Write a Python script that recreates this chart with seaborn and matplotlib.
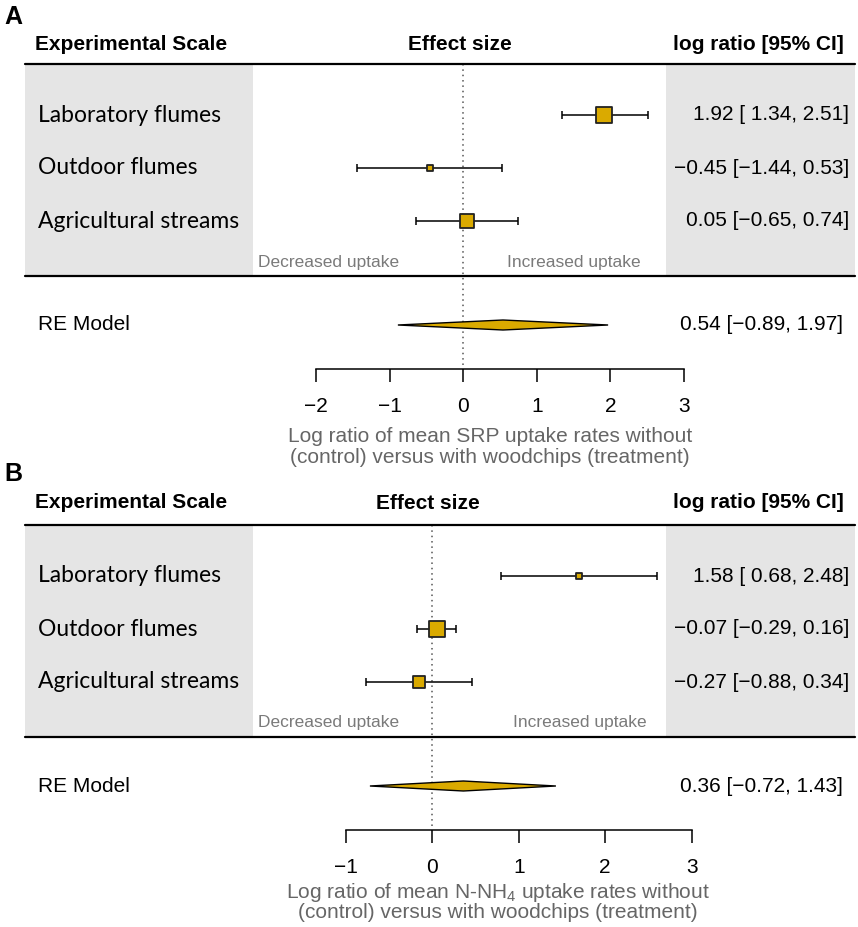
import numpy as np
import pandas as pd
import matplotlib
matplotlib.use("Agg")
import matplotlib.pyplot as plt
import seaborn as sns
from matplotlib.patches import Rectangle
from matplotlib.transforms import blended_transform_factory

# ---- data -------------------------------------------------------------
scales = ["Laboratory flumes", "Outdoor flumes", "Agricultural streams"]

# panel A: SRP uptake
srp_est = [1.92, -0.45, 0.05]
srp_lo = [1.34, -1.44, -0.65]
srp_hi = [2.51, 0.53, 0.74]
srp_weight = [1.0, 0.35, 0.85]
srp_re = [0.54, -0.89, 1.97]
srp_ticks = [-2, -1, 0, 1, 2, 3]

# panel B: N-NH4 uptake
# printed values
nh4_est = [1.58, -0.07, -0.27]
nh4_lo = [0.68, -0.29, -0.88]
nh4_hi = [2.48, 0.16, 0.34]
# where the squares actually sit in the figure (shifted ~0.12 to the right)
nh4_plot_est = [1.70, 0.05, -0.15]
nh4_plot_lo = [0.79, -0.17, -0.76]
nh4_plot_hi = [2.60, 0.28, 0.46]
nh4_weight = [0.36, 1.0, 0.72]
nh4_re = [0.36, -0.72, 1.43]
nh4_ticks = [-1, 0, 1, 2, 3]

# ---- style ------------------------------------------------------------
W, H = 858, 927
GOLD = "#DAAA00"
GRAY_BOX = "#E5E5E5"

sns.set_theme(style="white")
plt.rcParams['font.family'] = ['Liberation Sans', 'DejaVu Sans']
plt.rcParams['mathtext.default'] = 'regular'
plt.rcParams['text.color'] = 'black'
plt.rcParams['axes.labelcolor'] = 'black'
plt.rcParams['xtick.color'] = 'black'

LABEL_FONT = ['Lato', 'DejaVu Sans']


def fmt_ci(est, lo, hi):
    s = f"{est:.2f} [{lo:5.2f}, {hi:.2f}]"
    return s.replace("-", "\u2212")


def fx(px):
    return px / W


def draw_panel(ax, est, lo, hi, weight, re, ticks, zero_px, unit_px,
               plot_est=None, plot_lo=None, plot_hi=None,
               xlabel_lines=(), xlabel_x=490, xlabel_y=(436, 457),
               inc_right=641, header_y=45):
    if plot_est is None:
        plot_est, plot_lo, plot_hi = est, lo, hi
    ax.set_xlim(-zero_px / unit_px, (W - zero_px) / unit_px)
    ax.patch.set_visible(False)
    blend = blended_transform_factory(ax.transAxes, ax.transData)

    # layout in panel pixels
    top_line, bottom_line = 64, 276
    rows = [115, 168, 221]
    uptake_y, re_y, axis_y = 262, 325, 369

    # grey side boxes
    for x0, x1 in [(25, 253), (666, 855)]:
        ax.add_patch(Rectangle((fx(x0), top_line), fx(x1 - x0), bottom_line - top_line,
                               transform=blend, facecolor=GRAY_BOX, edgecolor='none',
                               zorder=0))
    for y in (top_line, bottom_line):
        ax.plot([fx(25), fx(855)], [y, y], transform=blend, color='black',
                lw=1.6, clip_on=False, zorder=3)

    # headers
    ax.text(fx(35), header_y, "Experimental Scale", transform=blend, fontsize=15,
            fontweight='bold', ha='left', va='center')
    ax.text(-0.05, header_y, "Effect size", fontsize=15, fontweight='bold',
            ha='center', va='center')
    ax.text(fx(844), header_y, "log ratio [95% CI]", transform=blend, fontsize=15,
            fontweight='bold', ha='right', va='center')

    # reference line
    ax.plot([0, 0], [top_line, axis_y - 3], color='#555555', lw=1.1,
            linestyle=(0, (1, 2.5)), zorder=1)

    df = pd.DataFrame({"scale": scales, "est": plot_est, "lo": plot_lo,
                       "hi": plot_hi, "weight": weight, "y": rows})
    ax.errorbar(df["est"], df["y"], xerr=[df["est"] - df["lo"], df["hi"] - df["est"]],
                fmt='none', ecolor='black', elinewidth=1.1, capsize=2.6,
                capthick=1.1, zorder=2)
    sizes = {w: (w * 11.5) ** 2 for w in weight}
    sns.scatterplot(data=df, x="est", y="y", size="weight", sizes=sizes,
                    marker='s', color=GOLD, edgecolor='#222222', linewidth=1.3,
                    legend=False, ax=ax, zorder=4)

    for y, name, e, l, h in zip(rows, scales, est, lo, hi):
        ax.text(fx(38), y, name, transform=blend, fontsize=16.5, family=LABEL_FONT,
                ha='left', va='center')
        ax.text(fx(849), y, fmt_ci(e, l, h), transform=blend, fontsize=15,
                ha='right', va='center')

    ax.text(fx(258), uptake_y, "Decreased uptake", transform=blend, fontsize=12.5,
            color='#7a7a7a', ha='left', va='center')
    ax.text(fx(inc_right), uptake_y, "Increased uptake", transform=blend, fontsize=12.5,
            color='#7a7a7a', ha='right', va='center')

    # summary diamond
    m, l, h = re
    ax.fill([l, m, h, m], [re_y, re_y - 5, re_y, re_y + 5], facecolor=GOLD,
            edgecolor='black', lw=1.0, zorder=4)
    ax.text(fx(38), re_y, "RE Model", transform=blend, fontsize=15,
            ha='left', va='center')
    ax.text(fx(843), re_y, fmt_ci(m, l, h).replace("[ ", "["), transform=blend,
            fontsize=15, ha='right', va='center')

    # x axis
    for side in ('left', 'right', 'top'):
        ax.spines[side].set_visible(False)
    ax.spines['bottom'].set_position(('data', axis_y))
    ax.spines['bottom'].set_bounds(ticks[0], ticks[-1])
    ax.spines['bottom'].set_color('black')
    ax.spines['bottom'].set_linewidth(1.1)
    ax.set_xticks(ticks)
    ax.set_yticks([])
    ax.tick_params(axis='x', direction='out', length=9, width=1.1, labelsize=15,
                   pad=11, colors='black', bottom=True)
    ax.set_xlabel("")
    ax.set_ylabel("")
    for text, y in zip(xlabel_lines, xlabel_y):
        ax.text(fx(xlabel_x), y, text, transform=blend, fontsize=15, color='#666666',
                ha='center', va='center')


fig = plt.figure(figsize=(W / 100, H / 100), dpi=100)
hA, hB = 461, H - 461
axA = fig.add_axes([0, hB / H, 1, hA / H])
axB = fig.add_axes([0, 0, 1, hB / H])
axA.set_ylim(hA, 0)
axB.set_ylim(hB, 0)

draw_panel(axA, srp_est, srp_lo, srp_hi, srp_weight, srp_re, srp_ticks,
           zero_px=463.3, unit_px=73.5,
           xlabel_lines=["Log ratio of mean SRP uptake rates without",
                         "(control) versus with woodchips (treatment)"],
           xlabel_x=490, xlabel_y=(436, 457), inc_right=641, header_y=45)
draw_panel(axB, nh4_est, nh4_lo, nh4_hi, nh4_weight, nh4_re, nh4_ticks,
           zero_px=432.2, unit_px=86.5,
           plot_est=nh4_plot_est, plot_lo=nh4_plot_lo, plot_hi=nh4_plot_hi,
           xlabel_lines=["Log ratio of mean N-NH$_4$ uptake rates without",
                         "(control) versus with woodchips (treatment)"],
           xlabel_x=498, xlabel_y=(431, 451), inc_right=647, header_y=42)

fig.text(fx(4), 1 - 17 / H, "A", fontsize=18, fontweight='bold', ha='left', va='center')
fig.text(fx(4), 1 - 474 / H, "B", fontsize=18, fontweight='bold', ha='left', va='center')

fig.savefig("out.png", dpi=100)
